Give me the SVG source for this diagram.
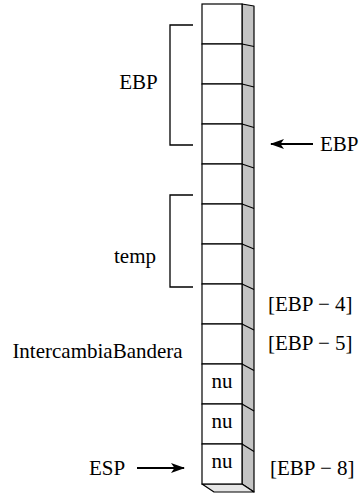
<svg xmlns="http://www.w3.org/2000/svg" width="360" height="493" viewBox="0 0 360 493">
<defs>
<style>
text{font-family:"Liberation Serif","Times New Roman",serif;font-size:21px;fill:#000}
.cell{fill:#fff;stroke:#000;stroke-width:1.2}
.side{fill:#c4c4c4;stroke:#000;stroke-width:1.2;stroke-linejoin:round}
.bot{fill:#e6e6e6;stroke:#000;stroke-width:1.2;stroke-linejoin:round}
.ln{fill:none;stroke:#000;stroke-width:1.2}
.br{fill:none;stroke:#000;stroke-width:1.3}
.ar{fill:none;stroke:#000;stroke-width:2.2;marker-end:url(#ah)}
</style>
<marker id="ah" viewBox="0 0 14 10" refX="13" refY="5" markerWidth="14" markerHeight="10" markerUnits="userSpaceOnUse" orient="auto">
<path d="M0,0 L14,5 L0,10 L3.5,5 Z" fill="#000"/>
</marker>
</defs>
<g id="stack">
<polygon class="side" points="242,4 254,6 254,492 242,484"/>
<polygon class="bot" points="202,484 242,484 254,492 214,492"/>
<g class="ln">
<line x1="242" y1="44" x2="254" y2="46.5"/>
<line x1="242" y1="84" x2="254" y2="87"/>
<line x1="242" y1="124" x2="254" y2="127.5"/>
<line x1="242" y1="164" x2="254" y2="168"/>
<line x1="242" y1="204" x2="254" y2="208.5"/>
<line x1="242" y1="244" x2="254" y2="249"/>
<line x1="242" y1="284" x2="254" y2="289.5"/>
<line x1="242" y1="324" x2="254" y2="330"/>
<line x1="242" y1="364" x2="254" y2="370.5"/>
<line x1="242" y1="404" x2="254" y2="411"/>
<line x1="242" y1="444" x2="254" y2="451.5"/>
</g>
<rect id="c1" class="cell" x="202" y="4" width="40" height="40"/>
<rect id="c2" class="cell" x="202" y="44" width="40" height="40"/>
<rect id="c3" class="cell" x="202" y="84" width="40" height="40"/>
<rect id="c4" class="cell" x="202" y="124" width="40" height="40"/>
<rect id="c5" class="cell" x="202" y="164" width="40" height="40"/>
<rect id="c6" class="cell" x="202" y="204" width="40" height="40"/>
<rect id="c7" class="cell" x="202" y="244" width="40" height="40"/>
<rect id="c8" class="cell" x="202" y="284" width="40" height="40"/>
<rect id="c9" class="cell" x="202" y="324" width="40" height="40"/>
<g id="c10"><rect class="cell" x="202" y="364" width="40" height="40"/><text x="222" y="388" text-anchor="middle">nu</text></g>
<g id="c11"><rect class="cell" x="202" y="404" width="40" height="40"/><text x="222" y="428" text-anchor="middle">nu</text></g>
<g id="c12"><rect class="cell" x="202" y="444" width="40" height="40"/><text x="222" y="468" text-anchor="middle">nu</text></g>
</g>
<g id="lbl-ebp"><text x="138.5" y="89" text-anchor="middle">EBP</text></g>
<g id="lbl-temp"><text x="135" y="263" text-anchor="middle">temp</text></g>
<g id="lbl-ib"><text x="97.5" y="358" text-anchor="middle">IntercambiaBandera</text></g>
<g id="lbl-ebp-r"><text x="320" y="151">EBP</text></g>
<g id="lbl-m4"><text x="268" y="311">[EBP − 4]</text></g>
<g id="lbl-m5"><text x="268" y="350">[EBP − 5]</text></g>
<g id="lbl-esp"><text x="89" y="475">ESP</text></g>
<g id="lbl-m8"><text x="270" y="475">[EBP − 8]</text></g>
<g id="connectors">
<path class="br" d="M193,25 H170 V145 H193"/>
<path class="br" d="M193,195 H170 V287 H193"/>
<line class="ar" x1="313" y1="144" x2="271" y2="144"/>
<line class="ar" x1="137" y1="468" x2="184" y2="468"/>
</g>
</svg>
